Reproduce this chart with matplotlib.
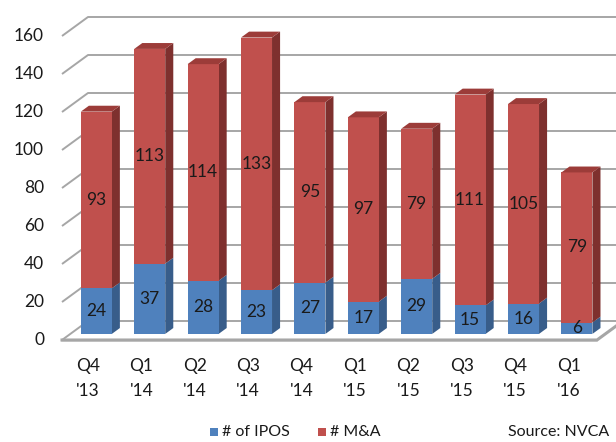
import matplotlib
matplotlib.use("Agg")
import matplotlib.pyplot as plt
from matplotlib.patches import Polygon, Rectangle
import numpy as np

quarters = ["Q4\n'13", "Q1\n'14", "Q2\n'14", "Q3\n'14", "Q4\n'14",
            "Q1\n'15", "Q2\n'15", "Q3\n'15", "Q4\n'15", "Q1\n'16"]
ipos = [24, 37, 28, 23, 27, 17, 29, 15, 16, 6]
mna = [93, 113, 114, 133, 95, 97, 79, 111, 105, 79]
yticks = [0, 20, 40, 60, 80, 100, 120, 140, 160]
series_names = ["# of IPOS", "# M&A"]
source_text = "Source: NVCA"

plt.rcParams['font.family'] = ['Lato', 'DejaVu Sans']

W_PX, H_PX = 616, 442
fig = plt.figure(figsize=(W_PX / 100, H_PX / 100), dpi=100)
ax = fig.add_axes([0, 0, 1, 1])

# pixel mapping of the front plane
X0_PX, CAT_PX = 88.0, 53.4      # category 0 centre, spacing
Y0_PX, UNIT_PX = 340.0, 1.9     # value 0 and px per unit
ax.set_xlim(-X0_PX / CAT_PX, (W_PX - X0_PX) / CAT_PX)
ax.set_ylim((Y0_PX - H_PX) / UNIT_PX, Y0_PX / UNIT_PX)
ax.axis('off')

def px2x(px):
    return (px - X0_PX) / CAT_PX

def px2y(py):
    return (Y0_PX - py) / UNIT_PX

DX = 26 / CAT_PX     # depth offset (x)
DY = 19 / UNIT_PX    # depth offset (y)
F0, F1 = 0.32, 0.63  # bar depth range
BW = 31 / CAT_PX     # bar width

xl, xr = px2x(62), px2x(597)
grid_c = '#A6A6A6'

# gridlines: left wall diagonal + back wall horizontal
for v in yticks:
    ax.plot([xl, xl + DX, 12], [v, v + DY, v + DY], color=grid_c, lw=1.4,
            solid_capstyle='butt', zorder=1)
    ax.text(px2x(44), v, str(v), ha='right', va='center', fontsize=12.5,
            color='#1a1a1a')

# floor
ax.plot([xl, xr, xr + DX], [0, 0, DY], color=grid_c, lw=2.2, zorder=1)
ax.plot([xl, xr], [-0.35, -0.35], color='#D9D9D9', lw=1.2, zorder=0.9)

blue_f, blue_s, blue_t = '#4F81BD', '#385D8A', '#4472A8'
red_f, red_s, red_t = '#C0504D', '#7E302E', '#9C3C39'

x = np.arange(len(quarters))
D = F1 - F0
for i in x:
    cx = i + F0 * DX
    base = F0 * DY
    segs = [(ipos[i], blue_f, blue_s, blue_t), (mna[i], red_f, red_s, red_t)]
    bottom = base
    for k, (val, fc, sc, tc) in enumerate(segs):
        top = bottom + val
        side = Polygon([(cx + BW / 2, bottom), (cx + BW / 2 + D * DX, bottom + D * DY),
                        (cx + BW / 2 + D * DX, top + D * DY), (cx + BW / 2, top)],
                       closed=True, facecolor=sc, edgecolor='none', zorder=2)
        ax.add_patch(side)
        bottom = top
    # front faces
    ax.bar(cx, ipos[i], width=BW, bottom=base, color=blue_f, zorder=3)
    ax.bar(cx, mna[i], width=BW, bottom=base + ipos[i], color=red_f, zorder=3)
    # top face
    top = base + ipos[i] + mna[i]
    topf = Polygon([(cx - BW / 2, top), (cx + BW / 2, top),
                    (cx + BW / 2 + D * DX, top + D * DY), (cx - BW / 2 + D * DX, top + D * DY)],
                   closed=True, facecolor=red_t, edgecolor='none', zorder=3)
    ax.add_patch(topf)
    # value labels
    ax.text(cx, base + ipos[i] / 2, str(ipos[i]), ha='center', va='center',
            fontsize=12.5, color='#1a1a1a', zorder=5)
    ax.text(cx, base + ipos[i] + mna[i] / 2, str(mna[i]), ha='center', va='center',
            fontsize=12.5, color='#1a1a1a', zorder=5)
    # category labels
    l1, l2 = quarters[i].split("\n")
    ax.text(i, px2y(366), l1, ha='center', va='center', fontsize=12.5, color='#1a1a1a')
    ax.text(i, px2y(391), l2, ha='center', va='center', fontsize=12.5, color='#1a1a1a')

# legend
leg_y = px2y(432)
for px, name, col in [(210, series_names[0], blue_f), (318, series_names[1], red_f)]:
    ax.add_patch(Rectangle((px2x(px), px2y(436)), 8 / CAT_PX, 8 / UNIT_PX,
                           facecolor=col, edgecolor='none', clip_on=False))
    ax.text(px2x(px + 12), leg_y, name, ha='left', va='center', fontsize=11.5,
            color='#1a1a1a')
ax.text(px2x(508), leg_y, source_text, ha='left', va='center', fontsize=11.5,
        color='#1a1a1a')

fig.savefig("out.png", dpi=100)
